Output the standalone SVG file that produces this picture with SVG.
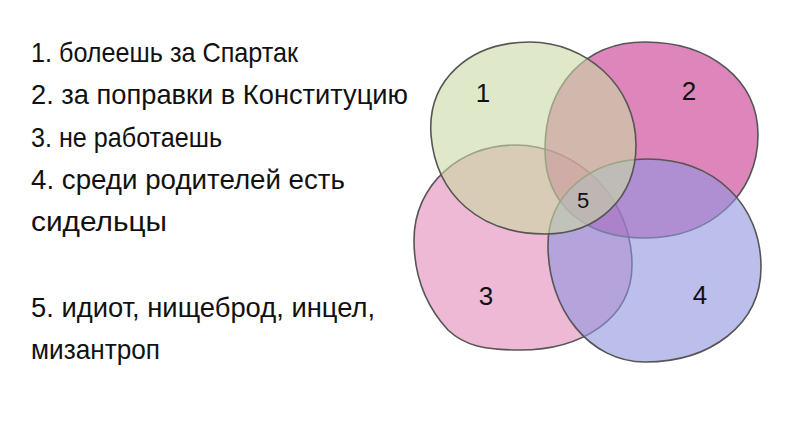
<svg xmlns="http://www.w3.org/2000/svg" width="800" height="432" viewBox="0 0 800 432">
<style>
.t{font-family:"Liberation Sans","DejaVu Sans",sans-serif;font-size:28px;fill:#111}
.n{font-family:"Liberation Sans","DejaVu Sans",sans-serif;font-size:26px;fill:#111;text-anchor:middle}
.blob{stroke:#555;stroke-width:1.6;fill-opacity:0.6}
</style>
<rect width="800" height="432" fill="#fff"/>
<g id="legend">
<text class="t" x="31" y="62" textLength="267" lengthAdjust="spacingAndGlyphs">1. болеешь за Спартак</text>
<text class="t" x="31" y="104" textLength="377" lengthAdjust="spacingAndGlyphs">2. за поправки в Конституцию</text>
<text class="t" x="31" y="147" textLength="191" lengthAdjust="spacingAndGlyphs">3. не работаешь</text>
<text class="t" x="31" y="189" textLength="314" lengthAdjust="spacingAndGlyphs">4. среди родителей есть</text>
<text class="t" x="31" y="231" textLength="136" lengthAdjust="spacingAndGlyphs">сидельцы</text>
<text class="t" x="31" y="317" textLength="344" lengthAdjust="spacingAndGlyphs">5. идиот, нищеброд, инцел,</text>
<text class="t" x="31" y="359" textLength="129" lengthAdjust="spacingAndGlyphs">мизантроп</text>
</g>
<g id="set3">
<path class="blob" fill="#e18ab9" d="M515,145 C580,145 632,200 632,265 C632,320 580,350 520,350 C485,350 465,346 448,330 C425,305 414,275 414,240 C414,185 460,145 515,145 Z"/>
</g>
<g id="set2">
<path class="blob" fill="#c8358f" d="M645,42 C710,42 758,80 758,135 C758,195 710,238 645,238 C585,238 545,205 545,150 C545,85 585,42 645,42 Z"/>
</g>
<g id="set4">
<path class="blob" fill="#8f94df" d="M647,159 C715,159 761,205 761,267 C761,325 710,362 645,362 C590,362 548,310 548,245 C548,195 590,159 647,159 Z"/>
</g>
<g id="set1">
<path class="blob" fill="#cad9a3" d="M530,42 C585,42 636,85 636,145 C636,198 598,234 545,234 C480,234 436,195 431,135 C427,80 470,42 530,42 Z"/>
</g>
<g id="labels">
<text class="n" x="483" y="102">1</text>
<text class="n" x="689" y="100">2</text>
<text class="n" x="583" y="208" style="font-size:22px">5</text>
<text class="n" x="486" y="305">3</text>
<text class="n" x="700" y="304">4</text>
</g>
</svg>
